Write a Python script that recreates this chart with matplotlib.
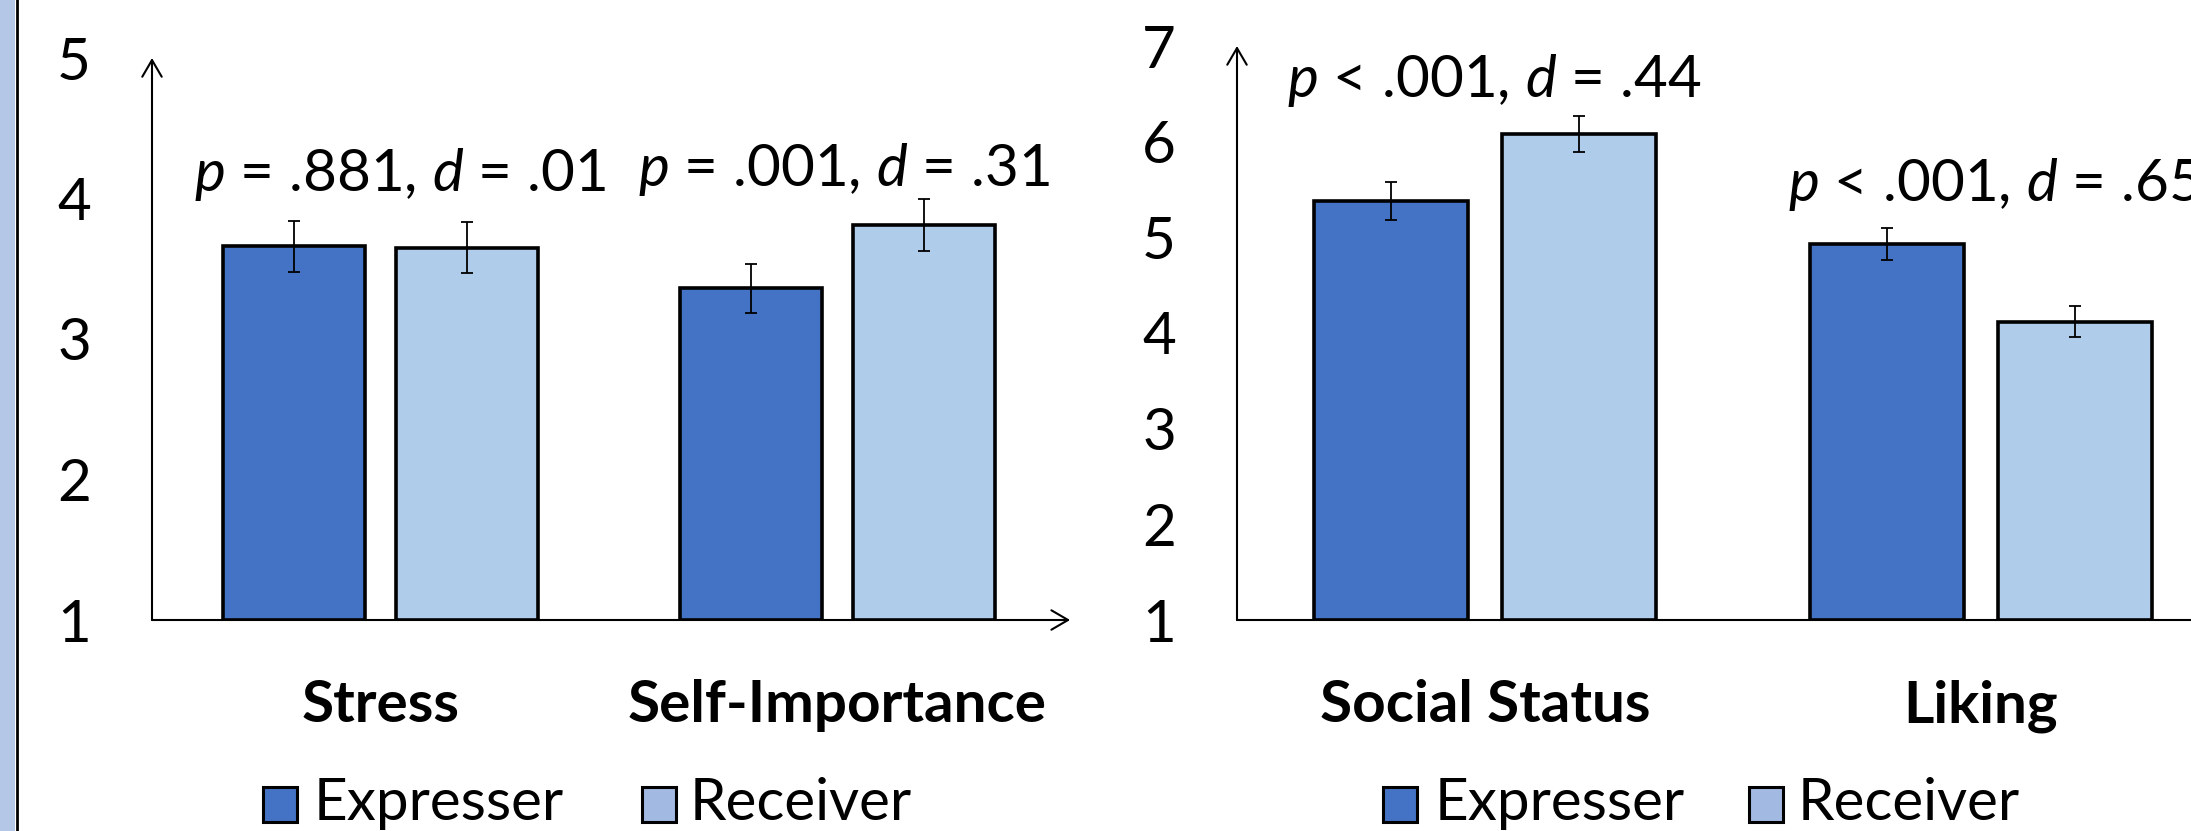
import matplotlib
matplotlib.use("Agg")

import matplotlib.pyplot as plt
import matplotlib.patches as patches
from matplotlib.transforms import blended_transform_factory


# ========= 資料 =========
left_categories = ["Stress", "Self-Importance"]
left_expresser = [3.66, 3.36]
left_receiver = [3.65, 3.81]
left_exp_err = [0.18, 0.175]
left_rec_err = [0.18, 0.185]
left_stats = [r"$p$ = .881, $d$ = .01", r"$p$ = .001, $d$ = .31"]
left_yticks = [1, 2, 3, 4, 5]

right_categories = ["Social Status", "Liking"]
right_expresser = [5.38, 4.93]
right_receiver = [6.08, 4.12]
right_exp_err = [0.20, 0.17]
right_rec_err = [0.19, 0.16]
right_stats = [r"$p$ < .001, $d$ = .44", r"$p$ < .001, $d$ = .65"]
right_yticks = [1, 2, 3, 4, 5, 6, 7]

series_names = ["Expresser", "Receiver"]


# ========= 樣式 =========
FONT = "Lato"
plt.rcParams["font.family"] = [FONT, "DejaVu Sans"]
plt.rcParams["mathtext.fontset"] = "custom"
plt.rcParams["mathtext.rm"] = FONT
plt.rcParams["mathtext.it"] = FONT + ":italic"

C_EXP = "#4472c4"
C_REC = "#afcdea"
C_REC_LEG = "#a2b9e1"

W, H = 2191, 831
fig = plt.figure(figsize=(W / 100, H / 100), dpi=100)

# 左側淡藍色邊條
fig.patches.append(patches.Rectangle((0, 0), 15 / W, 1, transform=fig.transFigure,
                                     facecolor="#b4c7e7", edgecolor="none"))
fig.add_artist(plt.Line2D([16.5 / W, 16.5 / W], [0, 1], transform=fig.transFigure,
                          color="black", lw=2))


def draw_panel(ax, cats, exp, rec, exp_err, rec_err, stats, stat_pos, yticks):
    ymin, ymax = yticks[0], yticks[-1]
    x = [i + 0.5 for i in range(len(cats))]
    w, off = 0.31, 0.19

    ax.bar([v - off for v in x], [e - ymin for e in exp], w, bottom=ymin,
           color=C_EXP, edgecolor="black", lw=2.6, zorder=3)
    ax.bar([v + off for v in x], [r - ymin for r in rec], w, bottom=ymin,
           color=C_REC, edgecolor="black", lw=2.6, zorder=3)
    ax.errorbar([v - off for v in x], exp, yerr=exp_err, fmt="none",
                ecolor="black", elinewidth=1.3, capsize=4, capthick=1.3, zorder=4)
    ax.errorbar([v + off for v in x], rec, yerr=rec_err, fmt="none",
                ecolor="black", elinewidth=1.3, capsize=4, capthick=1.3, zorder=4)

    ax.set_xlim(0, len(cats))
    ax.set_ylim(ymin, ymax)
    for s in ax.spines.values():
        s.set_visible(False)
    ax.set_xticks([])
    ax.set_yticks(yticks)
    ax.tick_params(axis="y", length=0, pad=44, labelsize=42)

    # 軸線（箭頭）
    arrow = dict(arrowstyle="->,head_length=1.2,head_width=0.7", lw=1.5,
                 color="black", mutation_scale=10, shrinkA=0, shrinkB=0)
    ax.annotate("", xy=(0, ymax), xytext=(0, ymin), arrowprops=arrow,
                annotation_clip=False, zorder=2)
    ax.annotate("", xy=(len(cats) + 0.009, ymin), xytext=(0, ymin),
                arrowprops=arrow, annotation_clip=False, zorder=2)

    tr = blended_transform_factory(ax.transData, fig.transFigure)
    for xi, c in zip(x, cats):
        ax.text(xi, (H - 706) / H, c, transform=tr, ha="center", va="center",
                fontsize=42, fontweight="bold", clip_on=False)

    for (sx, sy), t in zip(stat_pos, stats):
        ax.text(sx, sy, t, ha="center", va="baseline", fontsize=42, clip_on=False)


ax1 = fig.add_axes([152 / W, (H - 620) / H, 914 / W, 562 / H])
draw_panel(ax1, left_categories, left_expresser, left_receiver, left_exp_err,
           left_rec_err, left_stats, [(0.543, 4.05), (1.514, 4.09)], left_yticks)

ax2 = fig.add_axes([1237 / W, (H - 620) / H, 992 / W, 574 / H])
draw_panel(ax2, right_categories, right_expresser, right_receiver, right_exp_err,
           right_rec_err, right_stats, [(0.518, 6.47), (1.526, 5.38)], right_yticks)


# ========= 圖例 =========
def draw_legend(items):
    for sq_x, txt_x, color, name in items:
        fig.patches.append(patches.Rectangle((sq_x / W, (H - 822) / H), 34 / W, 35 / H,
                                             transform=fig.transFigure, facecolor=color,
                                             edgecolor="black", lw=2.2))
        fig.text(txt_x / W, (H - 803) / H, name, ha="left", va="center", fontsize=42)


draw_legend([(263, 314, C_EXP, series_names[0]), (642, 690, C_REC_LEG, series_names[1])])
draw_legend([(1383, 1435, C_EXP, series_names[0]), (1749, 1798, C_REC_LEG, series_names[1])])

fig.savefig("out.png", dpi=100)
